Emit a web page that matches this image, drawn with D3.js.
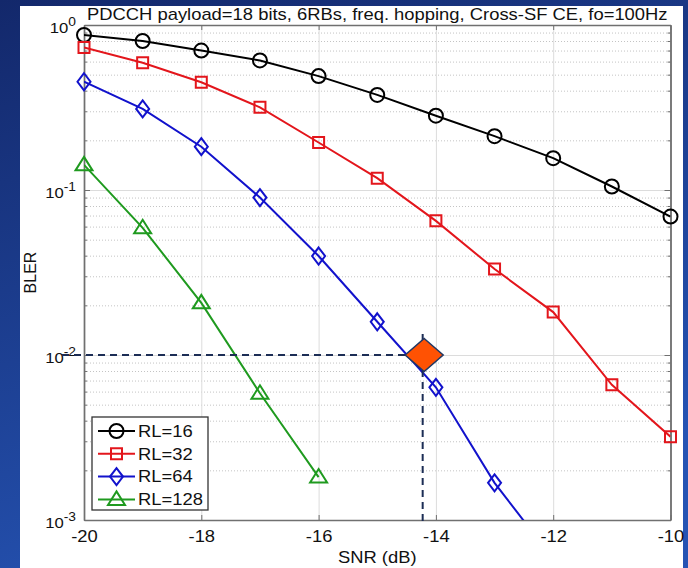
<!DOCTYPE html>
<html>
<head>
<meta charset="utf-8">
<script src="https://cdn.jsdelivr.net/npm/d3@7"></script>
<style>
	body { margin: 0; }
	text { font-family: "Liberation Sans", Arial, sans-serif; }
</style>
</head>
<body>
<div id="chart"></div>
<script>
// values
const snr = [-20, -19, -18, -17, -16, -15, -14, -13, -12, -11, -10];
const rl16 = [0.87, 0.8, 0.7, 0.61, 0.49, 0.377, 0.282, 0.212, 0.156, 0.105, 0.069];
const rl32 = [0.73, 0.59, 0.45, 0.317, 0.194, 0.118, 0.065, 0.0332, 0.0182, 0.0066, 0.0032];
const rl64 = [0.453, 0.31, 0.183, 0.09, 0.0398, 0.0159, 0.00637, 0.00168, 0.00058];
const rl128 = [0.142, 0.059, 0.0207, 0.00586, 0.00182];
const seriesNames = ["RL=16", "RL=32", "RL=64", "RL=128"];
const seriesColors = ["#000000", "#e3161c", "#1212cc", "#1f9a1f"];
const seriesMarkers = ["circle", "square", "diamond", "triangle"];
const xTicks = [-20, -18, -16, -14, -12, -10];
const yTicks = [1, 0.1, 0.01, 0.001];
const yExponents = ["0", "-1", "-2", "-3"];
const target = { snr: -14.2, bler: 0.01 };
const title = "PDCCH payload=18 bits, 6RBs, freq. hopping, Cross-SF CE, fo=100Hz";

const series = [rl16, rl32, rl64, rl128].map((vals, i) => ({
	name: seriesNames[i],
	color: seriesColors[i],
	marker: seriesMarkers[i],
	points: vals.map((v, j) => ({ x: snr[j], y: v })),
}));

// minor log ticks 2..9 per decade
const yMinor = [];
[-3, -2, -1].forEach((d) => {
	for (let k = 2; k <= 9; k++) yMinor.push(k * Math.pow(10, d));
});

const W = 688;
const H = 568;
const margin = { top: 25, right: 17.5, bottom: 48, left: 84 };
const width = W - margin.left - margin.right;
const height = H - margin.top - margin.bottom;

// the source picture is a little stretched sideways, so text is too
const stretchX = 1.15;
function stretch(sel) {
	sel.each(function () {
		const t = d3.select(this);
		const x0 = +t.attr("x") || 0;
		const prev = t.attr("transform") || "";
		t.attr(
			"transform",
			prev + " translate(" + x0 + ",0) scale(" + stretchX + ",1) translate(" + -x0 + ",0)",
		);
	});
}

const svg = d3
	.select("#chart")
	.append("svg")
	.attr("width", W)
	.attr("height", H);

// slide background
const defs = svg.append("defs");
const grad = defs
	.append("linearGradient")
	.attr("id", "bg")
	.attr("x1", "0")
	.attr("y1", "0")
	.attr("x2", "0.4")
	.attr("y2", "1");
grad.append("stop").attr("offset", "0").attr("stop-color", "#13286b");
grad.append("stop").attr("offset", "1").attr("stop-color", "#2553b3");
svg.append("rect").attr("width", W).attr("height", H).attr("fill", "url(#bg)");
svg
	.append("rect")
	.attr("x", 20)
	.attr("y", 6)
	.attr("width", 663)
	.attr("height", H - 6)
	.attr("fill", "#ffffff");

defs
	.append("clipPath")
	.attr("id", "plot-clip")
	.append("rect")
	.attr("width", width)
	.attr("height", height);

const g = svg
	.append("g")
	.attr("transform", "translate(" + margin.left + "," + margin.top + ")");

const x = d3.scaleLinear().domain([-20, -10]).range([0, width]);
const y = d3.scaleLog().domain([0.001, 1]).range([height, 0]);

// grid
g.append("g")
	.attr("class", "minor-grid")
	.call(d3.axisLeft(y).tickValues(yMinor).tickSize(-width).tickFormat(""))
	.call((s) => s.select(".domain").remove())
	.selectAll("line")
	.attr("stroke", "#c4c4c4")
	.attr("stroke-dasharray", "1,2");

g.append("g")
	.attr("class", "major-grid")
	.call(d3.axisLeft(y).tickValues(yTicks).tickSize(-width).tickFormat(""))
	.call((s) => s.select(".domain").remove())
	.selectAll("line")
	.attr("stroke", "#dcdcdc");

g.append("g")
	.attr("class", "x-grid")
	.attr("transform", "translate(0," + height + ")")
	.call(d3.axisBottom(x).tickValues(xTicks).tickSize(-height).tickFormat(""))
	.call((s) => s.select(".domain").remove())
	.selectAll("line")
	.attr("stroke", "#dcdcdc");

// frame and inward ticks
const axisColor = "#707070";
function styleAxis(s) {
	s.select(".domain").attr("stroke", axisColor).attr("stroke-width", 1.4);
	s.selectAll(".tick line").attr("stroke", axisColor);
}

g.append("g")
	.attr("transform", "translate(0," + height + ")")
	.call(
		d3
			.axisBottom(x)
			.tickValues(xTicks)
			.tickSizeInner(-5)
			.tickSizeOuter(0)
			.tickPadding(11)
			.tickFormat((d) => String(d)),
	)
	.call(styleAxis)
	.selectAll("text")
	.attr("font-size", 16)
	.attr("fill", "#111")
	.call(stretch);

g.append("g")
	.call(d3.axisTop(x).tickValues(xTicks).tickSizeInner(-5).tickSizeOuter(0).tickFormat(""))
	.call(styleAxis);

const yLeft = g
	.append("g")
	.attr("class", "y-axis")
	.call(d3.axisLeft(y).tickValues(yTicks).tickSizeInner(-6).tickSizeOuter(0).tickPadding(8))
	.call(styleAxis);

yLeft.selectAll(".tick text").each(function (d, i) {
	const t = d3
		.select(this)
		.text(null)
		.attr("dy", null)
		.attr("y", 7.5)
		.attr("font-size", 14.5)
		.attr("fill", "#111");
	t.append("tspan").text("10");
	t.append("tspan").attr("dy", -7).attr("font-size", 12).text(yExponents[i]);
});
yLeft.selectAll(".tick text").call(stretch);

g.append("g")
	.call(d3.axisLeft(y).tickValues(yMinor).tickSizeInner(-3).tickSizeOuter(0).tickFormat(""))
	.call(styleAxis);

g.append("g")
	.attr("transform", "translate(" + width + ",0)")
	.call(d3.axisRight(y).tickValues(yTicks).tickSizeInner(-6).tickSizeOuter(0).tickFormat(""))
	.call(styleAxis);

g.append("g")
	.attr("transform", "translate(" + width + ",0)")
	.call(d3.axisRight(y).tickValues(yMinor).tickSizeInner(-3).tickSizeOuter(0).tickFormat(""))
	.call(styleAxis);

// marker shapes
function markerPath(type) {
	if (type === "square") return "M-5.5,-5.5H5.5V5.5H-5.5Z";
	if (type === "diamond") return "M0,-8.5L6.5,0L0,8.5L-6.5,0Z";
	if (type === "triangle") return "M0,-8L8.5,5.5L-8.5,5.5Z";
	return d3.arc()({ innerRadius: 0, outerRadius: 7, startAngle: 0, endAngle: 2 * Math.PI });
}

const line = d3
	.line()
	.x((d) => x(d.x))
	.y((d) => y(d.y));

const plot = g.append("g").attr("clip-path", "url(#plot-clip)");

plot
	.selectAll(".series")
	.data(series)
	.enter()
	.append("path")
	.attr("class", "series")
	.attr("fill", "none")
	.attr("stroke", (d) => d.color)
	.attr("stroke-width", 2)
	.attr("d", (d) => line(d.points));

const markersG = g.append("g");
series.forEach((s) => {
	markersG
		.selectAll(".m-" + s.marker)
		.data(s.points.filter((p) => p.y >= 0.001))
		.enter()
		.append("path")
		.attr("class", "m-" + s.marker)
		.attr("transform", (d) => "translate(" + x(d.x) + "," + y(d.y) + ")")
		.attr("d", markerPath(s.marker))
		.attr("fill", "none")
		.attr("stroke", s.color)
		.attr("stroke-width", 2);
});

// target annotation: dashed guides and orange diamond
const tx = x(target.snr);
const ty = y(target.bler);
const guide = "#1c2d55";
g.append("line")
	.attr("x1", -22)
	.attr("x2", tx)
	.attr("y1", ty)
	.attr("y2", ty)
	.attr("stroke", guide)
	.attr("stroke-width", 2)
	.attr("stroke-dasharray", "7,5");
g.append("line")
	.attr("x1", tx - 1.5)
	.attr("x2", tx - 1.5)
	.attr("y1", ty - 21)
	.attr("y2", height + 6)
	.attr("stroke", guide)
	.attr("stroke-width", 2)
	.attr("stroke-dasharray", "7,5");
g.append("path")
	.attr("transform", "translate(" + tx + "," + ty + ")")
	.attr("d", "M0,-16.5L19,0L0,16.5L-19,0Z")
	.attr("fill", "#ff5203")
	.attr("stroke", "#1f3864")
	.attr("stroke-width", 1.5);

// legend
const legend = g.append("g").attr("transform", "translate(8,392)");
legend
	.append("rect")
	.attr("width", 116)
	.attr("height", 93)
	.attr("fill", "#ffffff")
	.attr("stroke", "#333")
	.attr("stroke-width", 1.3);
const items = legend
	.selectAll(".item")
	.data(series)
	.enter()
	.append("g")
	.attr("class", "item")
	.attr("transform", (d, i) => "translate(0," + (14 + i * 22.8) + ")");
items
	.append("line")
	.attr("x1", 6)
	.attr("x2", 43)
	.attr("stroke", (d) => d.color)
	.attr("stroke-width", 2);
items
	.append("path")
	.attr("transform", "translate(24.5,0)")
	.attr("d", (d) => markerPath(d.marker))
	.attr("fill", "none")
	.attr("stroke", (d) => d.color)
	.attr("stroke-width", 2);
items
	.append("text")
	.attr("x", 46)
	.attr("dy", "0.36em")
	.attr("font-size", 16)
	.attr("fill", "#111")
	.text((d) => d.name)
	.call(stretch);

// title and axis labels
svg
	.append("text")
	.attr("x", margin.left + width / 2)
	.attr("y", 20)
	.attr("text-anchor", "middle")
	.attr("font-size", 16)
	.attr("fill", "#111")
	.text(title)
	.call(stretch);

svg
	.append("text")
	.attr("x", margin.left + width / 2)
	.attr("y", 563)
	.attr("text-anchor", "middle")
	.attr("font-size", 16)
	.attr("fill", "#111")
	.text("SNR (dB)")
	.call(stretch);

svg
	.append("text")
	.attr("transform", "translate(36," + (margin.top + height / 2) + ") rotate(-90)")
	.attr("text-anchor", "middle")
	.attr("font-size", 16)
	.attr("fill", "#111")
	.text("BLER");
</script>
</body>
</html>
